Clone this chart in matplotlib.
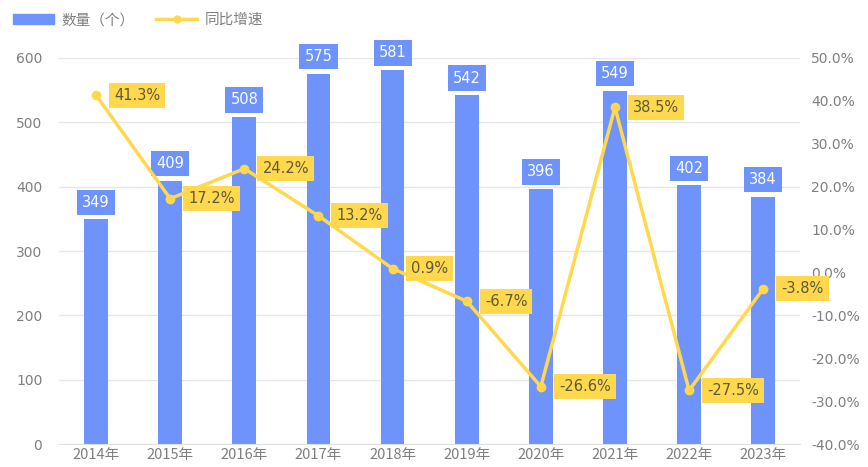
import numpy as np
import matplotlib.pyplot as plt
from matplotlib.lines import Line2D
from matplotlib.patches import Patch

plt.rcParams['font.family'] = ['Noto Sans CJK SC', 'DejaVu Sans']

years = ["2014年", "2015年", "2016年", "2017年", "2018年",
         "2019年", "2020年", "2021年", "2022年", "2023年"]
counts = [349, 409, 508, 575, 581, 542, 396, 549, 402, 384]
growth = [41.3, 17.2, 24.2, 13.2, 0.9, -6.7, -26.6, 38.5, -27.5, -3.8]

blue = "#6E93FB"
yellow = "#FFD84D"
gray = "#7F7F7F"
num_font = ["DejaVu Sans"]

fig = plt.figure(figsize=(8.68, 4.67), dpi=100)
ax = fig.add_axes([0.068, 0.049, 0.854, 0.827])
ax2 = ax.twinx()

x = np.arange(len(years))
ax.bar(x, counts, width=0.32, color=blue, zorder=2)
ax.set_xlim(-0.5, len(years) - 0.5)
ax.set_ylim(0, 600)
ax.set_yticks(range(0, 601, 100))
ax.grid(axis="y", color="#E6E6E6", linewidth=1, zorder=0)
ax.set_xticks(x)
ax.set_xticklabels(years)
for s in ["top", "right", "left"]:
    ax.spines[s].set_visible(False)
ax.spines["bottom"].set_color("#E0E0E0")
ax.tick_params(axis="both", length=0, colors=gray, labelsize=10)
ax.tick_params(axis="x", pad=3, labelsize=10.5)
ax.tick_params(axis="y", pad=12)
for lab in ax.get_yticklabels():
    lab.set_family(num_font)

for xi, c in zip(x, counts):
    ax.annotate(str(c), (xi, c), xytext=(0, 7), textcoords="offset points",
                ha="center", va="bottom", color="white", fontsize=10.5,
                family=num_font,
                bbox=dict(boxstyle="square,pad=0.35", fc=blue, ec="none"), zorder=5)

ax2.plot(x, growth, color=yellow, linewidth=2.5, marker="o", markersize=6, zorder=4)
ax2.set_ylim(-40, 50)
ax2.set_yticks(range(-40, 51, 10))
ax2.set_yticklabels([f"{v:.1f}%" for v in range(-40, 51, 10)])
for s in ["top", "right", "left", "bottom"]:
    ax2.spines[s].set_visible(False)
ax2.tick_params(axis="y", length=0, colors=gray, labelsize=10, pad=8)
for lab in ax2.get_yticklabels():
    lab.set_family(num_font)

for xi, g in zip(x, growth):
    ax2.annotate(f"{g}%", (xi, g), xytext=(13, 0), textcoords="offset points",
                 ha="left", va="center", color="#5A5A3A", fontsize=10.5,
                 family=num_font,
                 bbox=dict(boxstyle="square,pad=0.35", fc=yellow, ec="none"), zorder=6)

handles = [Patch(color=blue, label="数量（个）"),
           Line2D([0], [0], color=yellow, linewidth=2.5, marker="o", markersize=5,
                  label="同比增速")]
fig.legend(handles=handles, loc="upper left", bbox_to_anchor=(0.0, 1.0), ncol=2,
           frameon=False, fontsize=10.5, labelcolor=gray, handlelength=2.8,
           handleheight=0.6, columnspacing=1.5, handletextpad=0.5)

fig.savefig("out.png", dpi=100)
